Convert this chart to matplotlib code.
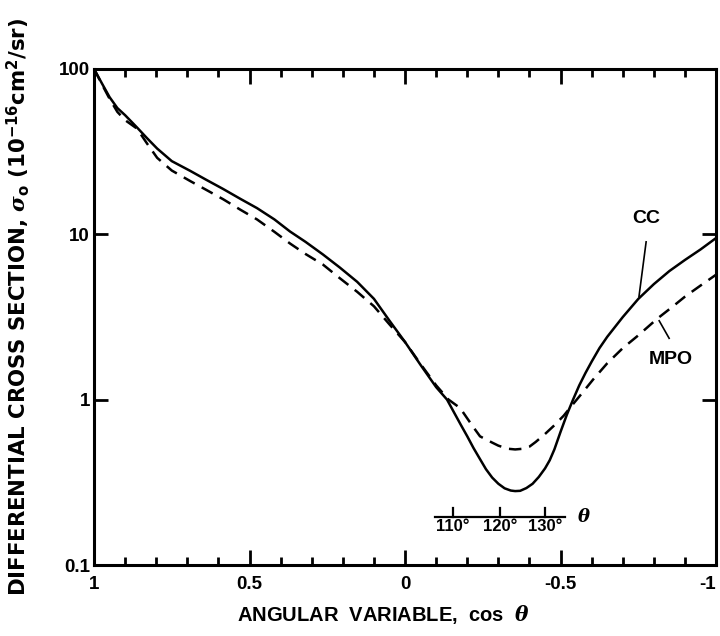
import numpy as np
import matplotlib
matplotlib.use('Agg')
import matplotlib.pyplot as plt
from matplotlib.ticker import FixedLocator, MultipleLocator, NullLocator

plt.rcParams['font.family'] = ['Liberation Sans', 'DejaVu Sans']
plt.rcParams['font.weight'] = 'bold'
plt.rcParams['mathtext.fontset'] = 'custom'
plt.rcParams['mathtext.rm'] = 'DejaVu Sans:bold'
plt.rcParams['mathtext.it'] = 'DejaVu Serif:italic:bold'
plt.rcParams['mathtext.bf'] = 'DejaVu Sans:bold'

# CC (close coupling), solid line
cc_x = [1.00, 0.975, 0.95, 0.925, 0.90, 0.862, 0.83, 0.797, 0.75, 0.691, 0.64,
        0.585, 0.53, 0.476, 0.42, 0.37, 0.32, 0.264, 0.21, 0.154, 0.10, 0.05,
        0.00, -0.05, -0.10, -0.135, -0.16, -0.18, -0.20, -0.22, -0.24, -0.26,
        -0.28, -0.30, -0.32, -0.34, -0.354, -0.37, -0.39, -0.41, -0.43, -0.45,
        -0.465, -0.48, -0.50, -0.52, -0.54, -0.56, -0.58, -0.60, -0.625, -0.65,
        -0.70, -0.75, -0.80, -0.85, -0.90, -0.95, -1.00]
cc_y = [100, 82, 67.5, 58, 52.5, 44.3, 38.2, 33, 27.7, 24.2, 21.4,
        18.8, 16.4, 14.4, 12.3, 10.4, 9.0, 7.55, 6.3, 5.16, 4.07, 3.0,
        2.23, 1.62, 1.19, 1.0, 0.82, 0.70, 0.60, 0.51, 0.44, 0.38,
        0.338, 0.31, 0.291, 0.282, 0.28, 0.281, 0.292, 0.31, 0.341, 0.384,
        0.43, 0.50, 0.64, 0.81, 1.0, 1.22, 1.45, 1.70, 2.05, 2.4,
        3.16, 4.07, 5.0, 6.0, 7.0, 8.1, 9.5]

# MPO, dashed line
mpo_x = [1.00, 0.975, 0.95, 0.925, 0.90, 0.862, 0.83, 0.797, 0.75, 0.691, 0.64,
         0.585, 0.53, 0.476, 0.42, 0.37, 0.32, 0.264, 0.21, 0.154, 0.10, 0.05,
         0.00, -0.05, -0.10, -0.14, -0.177, -0.20, -0.22, -0.241, -0.26, -0.28,
         -0.30, -0.33, -0.354, -0.38, -0.40, -0.42, -0.45, -0.48, -0.51, -0.54,
         -0.57, -0.604, -0.65, -0.70, -0.75, -0.81, -0.86, -0.90, -0.95, -1.00]
mpo_y = [100, 81, 66, 55, 49, 43.6, 35.5, 29, 24.3, 21, 18.6,
         16.3, 14.1, 12.3, 10.35, 8.8, 7.6, 6.56, 5.43, 4.49, 3.67, 2.85,
         2.23, 1.64, 1.22, 1.0, 0.89, 0.77, 0.68, 0.60, 0.575, 0.55,
         0.527, 0.505, 0.50, 0.505, 0.52, 0.555, 0.62, 0.70, 0.80, 0.94,
         1.10, 1.32, 1.66, 2.05, 2.45, 3.08, 3.65, 4.2, 4.9, 5.7]

x_ticks = [1, 0.5, 0, -0.5, -1]
x_tick_labels = ['1', '0.5', '0', '-0.5', '-1']
y_ticks = [0.1, 1, 10, 100]
y_tick_labels = ['0.1', '1', '10', '100']

# small theta scale drawn inside the plot
theta_labels = ['110°', '120°', '130°']
theta_pos = [-0.154, -0.305, -0.450]
theta_line = [-0.096, -0.514]

fig = plt.figure(figsize=(7.2, 6.36), dpi=100)
ax = fig.add_axes([0.1306, 0.1116, 0.864, 0.78])

ax.plot(cc_x, cc_y, color='black', lw=1.8, solid_joinstyle='round')
ax.plot(mpo_x, mpo_y, color='black', lw=1.8, dashes=(5, 3.2))

ax.set_yscale('log')
ax.set_xlim(1, -1)
ax.set_ylim(0.1, 100)

ax.xaxis.set_major_locator(FixedLocator(x_ticks))
ax.xaxis.set_minor_locator(MultipleLocator(0.1))
ax.set_xticklabels(x_tick_labels)
ax.yaxis.set_major_locator(FixedLocator(y_ticks))
ax.yaxis.set_minor_locator(NullLocator())
ax.set_yticklabels(y_tick_labels)
ax.get_xticklabels()[-1].set_horizontalalignment('right')

ax.tick_params(axis='x', which='major', direction='in', length=11, width=2,
               top=True, bottom=True, labelsize=13.5, pad=8)
ax.tick_params(axis='x', which='minor', direction='in', length=6, width=2,
               top=True, bottom=True)
ax.tick_params(axis='y', which='major', direction='in', length=10, width=2,
               left=True, right=True, labelsize=13.5, pad=3)
for sp in ax.spines.values():
    sp.set_linewidth(2.2)

ax.set_xlabel(r'ANGULAR  VARIABLE,  cos  $\mathit{\theta}$', fontsize=14.5,
              fontweight='bold')
ax.xaxis.set_label_coords(0.465, -0.077)
ax.set_ylabel(r'DIFFERENTIAL CROSS SECTION, $\mathit{\sigma}_{\mathrm{o}}$ (10$^{-16}$cm$^2$/sr)',
              fontsize=15.3, fontweight='bold', family='DejaVu Sans')
ax.yaxis.set_label_coords(-0.10, 0.52)

# curve labels
ax.text(-0.775, 12.5, 'CC', fontsize=14, ha='center', va='center')
ax.plot([-0.775, -0.752], [9.0, 4.2], color='black', lw=1.2)
ax.text(-0.855, 1.75, 'MPO', fontsize=14, ha='center', va='center')
ax.plot([-0.849, -0.817], [2.35, 3.0], color='black', lw=1.2)

# theta scale
ax.plot(theta_line, [0.194, 0.194], color='black', lw=1.6)
for tx, tl in zip(theta_pos, theta_labels):
    ax.plot([tx, tx], [0.194, 0.222], color='black', lw=1.6)
    ax.text(tx, 0.172, tl, fontsize=12, ha='center', va='center')
ax.text(-0.575, 0.196, r'$\mathit{\theta}$', fontsize=13, ha='center', va='center')

fig.savefig('out.png', dpi=100)
